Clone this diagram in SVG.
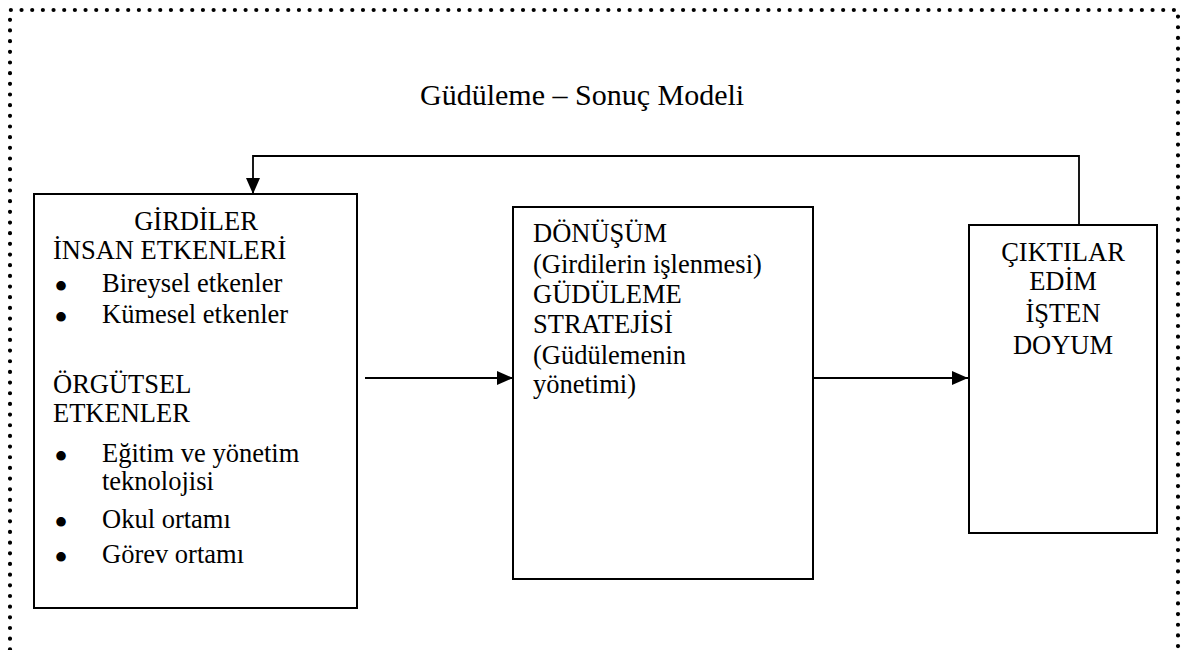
<svg xmlns="http://www.w3.org/2000/svg" width="1187" height="650" viewBox="0 0 1187 650">
<defs>
<style>
.frame{fill:none;stroke:#000;stroke-width:4.2;stroke-linecap:round;stroke-dasharray:0 10.67}
.box{fill:#fff;stroke:#000;stroke-width:2}
.ln{fill:none;stroke:#000;stroke-width:1.8}
.t{font-family:"Liberation Serif","Times New Roman",serif;font-size:26.5px;fill:#000}
.b{font-family:"Liberation Serif","Times New Roman",serif;font-size:40px;fill:#000;text-anchor:middle}
.title{font-family:"Liberation Serif","Times New Roman",serif;font-size:30px;fill:#000}
.c{text-anchor:middle}
</style>
<marker id="ah" viewBox="0 0 16 14" refX="16" refY="7" markerWidth="16" markerHeight="14" markerUnits="userSpaceOnUse" orient="auto">
<path d="M0,0 L16,7 L0,14 Z" fill="#000"/>
</marker>
</defs>
<rect width="1187" height="650" fill="#fff"/>
<path class="frame" d="M10,660 L10,10 L1178,10 L1178,660"/>
<text class="title" x="420" y="105">Güdüleme – Sonuç Modeli</text>
<g id="connectors">
<path class="ln" d="M365,378 L513,378" marker-end="url(#ah)"/>
<path class="ln" d="M813,378 L968,378" marker-end="url(#ah)"/>
<path class="ln" d="M1079,225 L1079,156 L253,156 L253,194" marker-end="url(#ah)"/>
</g>
<g id="girdiler">
<rect class="box" x="34" y="194" width="323" height="414"/>
<text class="t c" x="196" y="230">GİRDİLER</text>
<text class="t" x="53" y="259">İNSAN ETKENLERİ</text>
<text class="b" x="61" y="300">•</text>
<text class="t" x="102" y="292">Bireysel etkenler</text>
<text class="b" x="61" y="331">•</text>
<text class="t" x="102" y="323">Kümesel etkenler</text>
<text class="t" x="53" y="393">ÖRGÜTSEL</text>
<text class="t" x="53" y="422">ETKENLER</text>
<text class="b" x="61" y="470">•</text>
<text class="t" x="102" y="462">Eğitim ve yönetim</text>
<text class="t" x="102" y="490">teknolojisi</text>
<text class="b" x="61" y="536">•</text>
<text class="t" x="102" y="528">Okul ortamı</text>
<text class="b" x="61" y="571">•</text>
<text class="t" x="102" y="563">Görev ortamı</text>
</g>
<g id="donusum">
<rect class="box" x="513" y="207" width="300" height="372"/>
<text class="t" x="533" y="242">DÖNÜŞÜM</text>
<text class="t" x="533" y="273">(Girdilerin işlenmesi)</text>
<text class="t" x="533" y="303">GÜDÜLEME</text>
<text class="t" x="533" y="333">STRATEJİSİ</text>
<text class="t" x="533" y="364">(Güdülemenin</text>
<text class="t" x="533" y="393">yönetimi)</text>
</g>
<g id="ciktilar">
<rect class="box" x="969" y="225" width="188" height="308"/>
<text class="t c" x="1063" y="261">ÇIKTILAR</text>
<text class="t c" x="1063" y="290">EDİM</text>
<text class="t c" x="1063" y="322">İŞTEN</text>
<text class="t c" x="1063" y="354">DOYUM</text>
</g>
</svg>
